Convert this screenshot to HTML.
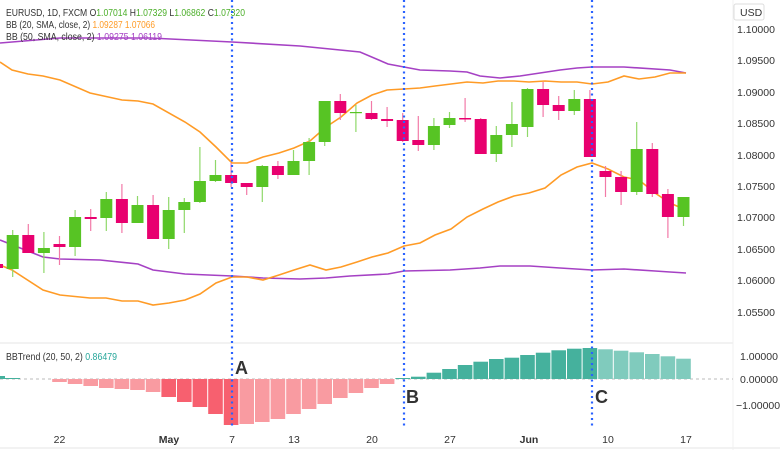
<!DOCTYPE html>
<html><head><meta charset="utf-8"><style>
body{margin:0;background:#fff;}
svg{display:block;font-family:"Liberation Sans",sans-serif;}
.g line{stroke:#8fd86a;stroke-width:1.2}.g rect{fill:#57c424}
.r line{stroke:#f27aa8;stroke-width:1.2}.r rect{fill:#e8006f}
.ax{font-size:10.5px;fill:#333}
</style></head><body>
<svg width="780" height="450" viewBox="0 0 780 450">
<rect width="780" height="450" fill="#fff"/>
<line x1="0" y1="343" x2="733" y2="343" stroke="#e6e6e6"/>
<line x1="0" y1="448" x2="780" y2="448" stroke="#e6e6e6"/>
<line x1="733" y1="0" x2="733" y2="450" stroke="#f0f0f0"/>
<polyline fill="none" stroke="#a541c4" stroke-width="1.6" points="0,43 60,38 150,38 232,42 300,46 360,52 388,64 404,67 420,70 450,71 467,72 480,76 500,78 520,76 540,73 560,70 577,68 592,67 624,67 670,70 686,73"/>
<polyline fill="none" stroke="#a541c4" stroke-width="1.6" points="0,240 43,257 60,259 100,260 138,264 153,270 185,274 232,276 263,278 300,279 326,278 350,276 388,274 404,271 450,270 480,268 500,266 530,266 560,268 592,270 624,269 655,271 670,272 686,273"/>
<polyline fill="none" stroke="#ff9b26" stroke-width="1.6" points="0,62 12,70 28,74 43,76 60,80 90,93 122,100 138,101 153,104 185,122 200,132 216,147 232,163 247,163 263,157 279,153 294,148 310,141 326,127 341,117 357,103 372,95 387,90 404,89 420,88 435,86 451,84 467,82 483,83 498,81 514,81 529,82 545,81 561,82 577,82 592,84 608,82 624,76 639,79 655,77 670,73 686,73"/>
<polyline fill="none" stroke="#ff9b26" stroke-width="1.6" points="0,265 12,270 43,290 60,295 90,298 106,298 122,301 138,301 153,305 169,303 185,300 200,294 216,283 232,277 247,277 263,280 279,275 294,270 310,265 326,270 341,267 357,262 372,257 388,253 404,246 420,243 435,235 451,229 467,217 483,209 498,202 514,196 529,193 545,188 561,175 577,167 592,163 608,169 624,177 639,180 655,193 670,203 686,210"/>
<g class="r"><line x1="-3" x2="-3" y1="262" y2="270"/><rect x="-9" y="264" width="12" height="4"/></g>
<g class="g"><line x1="12.7" x2="12.7" y1="230" y2="277"/><rect x="6.7" y="235" width="12" height="34"/></g>
<g class="r"><line x1="28.3" x2="28.3" y1="224" y2="253"/><rect x="22.3" y="235" width="12" height="18"/></g>
<g class="g"><line x1="43.9" x2="43.9" y1="232" y2="273"/><rect x="37.9" y="248" width="12" height="5"/></g>
<g class="r"><line x1="59.5" x2="59.5" y1="236" y2="265"/><rect x="53.5" y="244" width="12" height="3"/></g>
<g class="g"><line x1="75.1" x2="75.1" y1="210" y2="256"/><rect x="69.1" y="217" width="12" height="30"/></g>
<g class="r"><line x1="90.7" x2="90.7" y1="209" y2="231"/><rect x="84.7" y="217" width="12" height="2"/></g>
<g class="g"><line x1="106.3" x2="106.3" y1="192" y2="231"/><rect x="100.3" y="199" width="12" height="19"/></g>
<g class="r"><line x1="121.9" x2="121.9" y1="184" y2="233"/><rect x="115.9" y="199" width="12" height="24"/></g>
<g class="g"><line x1="137.5" x2="137.5" y1="196" y2="223"/><rect x="131.5" y="205" width="12" height="18"/></g>
<g class="r"><line x1="153.1" x2="153.1" y1="195" y2="239"/><rect x="147.1" y="205" width="12" height="34"/></g>
<g class="g"><line x1="168.7" x2="168.7" y1="197" y2="249"/><rect x="162.7" y="210" width="12" height="29"/></g>
<g class="g"><line x1="184.3" x2="184.3" y1="198" y2="233"/><rect x="178.3" y="202" width="12" height="8"/></g>
<g class="g"><line x1="199.9" x2="199.9" y1="147" y2="203"/><rect x="193.9" y="181" width="12" height="21"/></g>
<g class="g"><line x1="215.5" x2="215.5" y1="160" y2="182"/><rect x="209.5" y="175" width="12" height="6"/></g>
<g class="r"><line x1="231.1" x2="231.1" y1="163" y2="187"/><rect x="225.1" y="175" width="12" height="8"/></g>
<g class="r"><line x1="246.7" x2="246.7" y1="183" y2="195"/><rect x="240.7" y="183" width="12" height="4"/></g>
<g class="g"><line x1="262.3" x2="262.3" y1="165" y2="202"/><rect x="256.3" y="166" width="12" height="21"/></g>
<g class="r"><line x1="277.9" x2="277.9" y1="161" y2="179"/><rect x="271.9" y="166" width="12" height="9"/></g>
<g class="g"><line x1="293.5" x2="293.5" y1="150" y2="175"/><rect x="287.5" y="161" width="12" height="14"/></g>
<g class="g"><line x1="309.1" x2="309.1" y1="138" y2="175"/><rect x="303.1" y="142" width="12" height="19"/></g>
<g class="g"><line x1="324.7" x2="324.7" y1="101" y2="146"/><rect x="318.7" y="101" width="12" height="41"/></g>
<g class="r"><line x1="340.3" x2="340.3" y1="94" y2="120"/><rect x="334.3" y="101" width="12" height="12"/></g>
<g class="g"><line x1="355.9" x2="355.9" y1="105" y2="132"/><rect x="349.9" y="112" width="12" height="1.2"/></g>
<g class="r"><line x1="371.5" x2="371.5" y1="101" y2="120"/><rect x="365.5" y="113" width="12" height="6"/></g>
<g class="r"><line x1="387.1" x2="387.1" y1="107" y2="127"/><rect x="381.1" y="119" width="12" height="2"/></g>
<g class="r"><line x1="402.7" x2="402.7" y1="113" y2="142"/><rect x="396.7" y="120" width="12" height="21"/></g>
<g class="r"><line x1="418.3" x2="418.3" y1="116" y2="151"/><rect x="412.3" y="140" width="12" height="5"/></g>
<g class="g"><line x1="433.9" x2="433.9" y1="118" y2="150"/><rect x="427.9" y="126" width="12" height="19"/></g>
<g class="g"><line x1="449.5" x2="449.5" y1="112" y2="128"/><rect x="443.5" y="118" width="12" height="7"/></g>
<g class="r"><line x1="465.1" x2="465.1" y1="98" y2="122"/><rect x="459.1" y="118" width="12" height="1.5"/></g>
<g class="r"><line x1="480.7" x2="480.7" y1="118" y2="154"/><rect x="474.7" y="119" width="12" height="35"/></g>
<g class="g"><line x1="496.3" x2="496.3" y1="126" y2="162"/><rect x="490.3" y="135" width="12" height="19"/></g>
<g class="g"><line x1="511.9" x2="511.9" y1="102" y2="147"/><rect x="505.9" y="124" width="12" height="11"/></g>
<g class="g"><line x1="527.5" x2="527.5" y1="88" y2="137"/><rect x="521.5" y="89" width="12" height="38"/></g>
<g class="r"><line x1="543.1" x2="543.1" y1="82" y2="117"/><rect x="537.1" y="89" width="12" height="16"/></g>
<g class="r"><line x1="558.7" x2="558.7" y1="96" y2="120"/><rect x="552.7" y="105" width="12" height="6"/></g>
<g class="g"><line x1="574.3" x2="574.3" y1="90" y2="115"/><rect x="568.3" y="99" width="12" height="12"/></g>
<g class="r"><line x1="589.9" x2="589.9" y1="90" y2="157"/><rect x="583.9" y="99" width="12" height="58"/></g>
<g class="r"><line x1="605.5" x2="605.5" y1="166" y2="197"/><rect x="599.5" y="171" width="12" height="6"/></g>
<g class="r"><line x1="621.1" x2="621.1" y1="171" y2="205"/><rect x="615.1" y="177" width="12" height="15"/></g>
<g class="g"><line x1="636.7" x2="636.7" y1="122" y2="195"/><rect x="630.7" y="149" width="12" height="43"/></g>
<g class="r"><line x1="652.3" x2="652.3" y1="143" y2="197"/><rect x="646.3" y="149" width="12" height="45"/></g>
<g class="r"><line x1="667.9" x2="667.9" y1="189" y2="238"/><rect x="661.9" y="194" width="12" height="23"/></g>
<g class="g"><line x1="683.5" x2="683.5" y1="197" y2="226"/><rect x="677.5" y="197" width="12" height="20"/></g>
<g font-size="10.5">
<text x="6" y="16" fill="#333" textLength="239" lengthAdjust="spacingAndGlyphs">EURUSD, 1D, FXCM  O<tspan fill="#4caf2a">1.07014</tspan>  H<tspan fill="#4caf2a">1.07329</tspan>  L<tspan fill="#4caf2a">1.06862</tspan>  C<tspan fill="#4caf2a">1.07320</tspan></text>
<text x="6" y="28" fill="#333" textLength="149" lengthAdjust="spacingAndGlyphs">BB (20, SMA, close, 2)  <tspan fill="#ff9b26">1.09287</tspan>  <tspan fill="#ff9b26">1.07066</tspan></text>
<text x="6" y="40" fill="#333" textLength="156" lengthAdjust="spacingAndGlyphs">BB (50, SMA, close, 2)  <tspan fill="#a541c4">1.09275</tspan>  <tspan fill="#a541c4">1.06119</tspan></text>
<text x="6" y="360" fill="#333" textLength="111" lengthAdjust="spacingAndGlyphs">BBTrend (20, 50, 2)  <tspan fill="#26a69a">0.86479</tspan></text>
</g>
<rect x="734" y="4" width="30" height="16" rx="2" fill="#fff" stroke="#ddd"/>
<text x="740" y="16" class="ax">USD</text>
<g class="ax">
<text x="737" y="33">1.10000</text><text x="737" y="64">1.09500</text><text x="737" y="96">1.09000</text>
<text x="737" y="127">1.08500</text><text x="737" y="159">1.08000</text><text x="737" y="190">1.07500</text>
<text x="737" y="221">1.07000</text><text x="737" y="253">1.06500</text><text x="737" y="284">1.06000</text>
<text x="737" y="316">1.05500</text>
<text x="740" y="360">1.00000</text><text x="740" y="383">0.00000</text><text x="736" y="409">−1.00000</text>
</g>
<line x1="0" y1="379" x2="733" y2="379" stroke="#bbb" stroke-dasharray="3,3"/>
<g fill="#45b19d"><rect x="0" y="376" width="5" height="3"/><rect x="5" y="378" width="15" height="1"/></g>
<g fill="#f99ba1">
<rect x="52.2" y="379" width="14.6" height="3"/><rect x="67.8" y="379" width="14.6" height="5"/><rect x="83.4" y="379" width="14.6" height="7"/><rect x="99" y="379" width="14.6" height="9"/><rect x="114.6" y="379" width="14.6" height="10"/><rect x="130.2" y="379" width="14.6" height="11"/><rect x="145.8" y="379" width="14.6" height="13"/></g>
<g fill="#f7606f">
<rect x="161.4" y="379" width="14.6" height="18"/><rect x="177" y="379" width="14.6" height="23"/><rect x="192.6" y="379" width="14.6" height="28"/><rect x="208.2" y="379" width="14.6" height="35"/><rect x="223.8" y="379" width="14.6" height="46"/></g>
<g fill="#f99ba1">
<rect x="239.4" y="379" width="14.6" height="45"/><rect x="255" y="379" width="14.6" height="43"/><rect x="270.6" y="379" width="14.6" height="40"/><rect x="286.2" y="379" width="14.6" height="35"/><rect x="301.8" y="379" width="14.6" height="30"/><rect x="317.4" y="379" width="14.6" height="25"/><rect x="333" y="379" width="14.6" height="19"/><rect x="348.6" y="379" width="14.6" height="14"/><rect x="364.2" y="379" width="14.6" height="9"/><rect x="379.8" y="379" width="14.6" height="5"/></g>
<g fill="#45b19d">
<rect x="395.4" y="378" width="14.6" height="1"/><rect x="411" y="376.7" width="14.6" height="2.3"/><rect x="426.6" y="372.7" width="14.6" height="6.3"/><rect x="442.2" y="369" width="14.6" height="10"/><rect x="457.8" y="365" width="14.6" height="14"/><rect x="473.4" y="361.7" width="14.6" height="17.3"/><rect x="489" y="359" width="14.6" height="20"/><rect x="504.6" y="357.7" width="14.6" height="21.3"/><rect x="520.2" y="355" width="14.6" height="24"/><rect x="535.8" y="352.7" width="14.6" height="26.3"/><rect x="551.4" y="350.3" width="14.6" height="28.7"/><rect x="567" y="348.7" width="14.6" height="30.3"/><rect x="582.6" y="348" width="14.6" height="31"/></g>
<g fill="#80cbbd">
<rect x="598.2" y="349.3" width="14.6" height="29.7"/><rect x="613.8" y="350.7" width="14.6" height="28.3"/><rect x="629.4" y="352.3" width="14.6" height="26.7"/><rect x="645" y="354" width="14.6" height="25"/><rect x="660.6" y="356.3" width="14.6" height="22.7"/><rect x="676.2" y="358.7" width="14.6" height="20.3"/></g>
<g stroke="#2962ff" stroke-width="2.2" stroke-dasharray="2,3.5">
<line x1="232" y1="0" x2="232" y2="427"/><line x1="404" y1="0" x2="404" y2="427"/><line x1="592" y1="0" x2="592" y2="427"/></g>
<g font-size="18" font-weight="bold" fill="#333">
<text x="235" y="374">A</text><text x="406" y="403">B</text><text x="595" y="403">C</text></g>
<g class="ax" text-anchor="middle">
<text x="59.5" y="443">22</text><text x="169" y="443" font-weight="bold">May</text><text x="232" y="443">7</text>
<text x="294" y="443">13</text><text x="372" y="443">20</text><text x="450" y="443">27</text>
<text x="529" y="443" font-weight="bold">Jun</text><text x="608" y="443">10</text><text x="686" y="443">17</text></g>
</svg>
</body></html>
